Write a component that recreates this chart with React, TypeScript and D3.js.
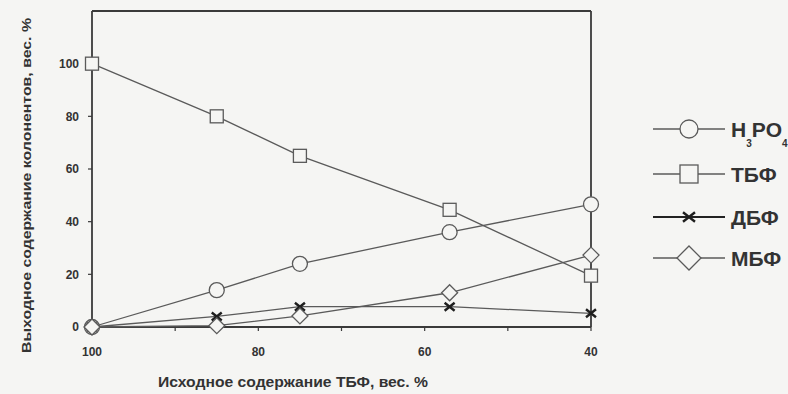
import React from "react";
import * as d3 from "d3";

const xValues = [100, 85, 75, 57, 40];
const seriesNames = ["HPO", "ТБФ", "ДБФ", "МБФ"];
const hpo = [0, 14, 24, 36, 46.6];
const tbf = [100, 80, 65, 44.5, 19.5];
const dbf = [0, 4, 7.7, 7.7, 5.2];
const mbf = [0, 0.5, 4.2, 13, 27.3];
const xTicks = [100, 80, 60, 40];
const xMinorTicks = [90, 70, 50];
const yTicks = [0, 20, 40, 60, 80, 100];
const xTitle = "Исходное содержание ТБФ, вес. %";
const yTitle = "Выходное содержание колонентов, вес. %";

const W = 788;
const H = 394;
const BG = "#f5f5f3";
const AX = "#3a3a3a";
const LN = "#5a5a5a";
const FONT = "'Liberation Sans', Arial, sans-serif";

const x = d3.scaleLinear().domain([100, 40]).range([92, 591]);
const y = d3.scaleLinear().domain([0, 120]).range([327, 11]);

type Kind = "circle" | "square" | "times" | "diamond";

function Marker({ kind, cx, cy, s }: { kind: Kind; cx: number; cy: number; s: number }) {
  if (kind === "circle") {
    return <circle cx={cx} cy={cy} r={s} fill={BG} stroke={LN} strokeWidth={1.3} />;
  }
  if (kind === "square") {
    return <rect x={cx - s} y={cy - s} width={2 * s} height={2 * s} fill={BG} stroke={LN} strokeWidth={1.3} />;
  }
  if (kind === "diamond") {
    const d = `M${cx},${cy - s}L${cx + s},${cy}L${cx},${cy + s}L${cx - s},${cy}Z`;
    return <path d={d} fill={BG} stroke={LN} strokeWidth={1.3} />;
  }
  const d = `M${cx - s},${cy - s * 0.8}L${cx + s},${cy + s * 0.8}M${cx + s},${cy - s * 0.8}L${cx - s},${cy + s * 0.8}`;
  return <path d={d} fill="none" stroke="#1e1e1e" strokeWidth={2.4} />;
}

const series: { name: string; values: number[]; kind: Kind; ps: number; ls: number; lw: number }[] = [
  { name: seriesNames[0], values: hpo, kind: "circle", ps: 7.5, ls: 9, lw: 1.3 },
  { name: seriesNames[1], values: tbf, kind: "square", ps: 6.5, ls: 9, lw: 1.3 },
  { name: seriesNames[2], values: dbf, kind: "times", ps: 5, ls: 6, lw: 1.3 },
  { name: seriesNames[3], values: mbf, kind: "diamond", ps: 8, ls: 12, lw: 1.3 },
];

const legendY = [129, 174, 217, 258];

export default function App() {
  const line = d3
    .line<[number, number]>()
    .x((d) => x(d[0]))
    .y((d) => y(d[1]));

  return (
    <svg width={W} height={H} style={{ position: "absolute", left: 0, top: 0, background: BG }} fontFamily={FONT}>
      <rect x={0} y={0} width={W} height={H} fill={BG} />
      {/* frame */}
      <line x1={x(100)} x2={x(40)} y1={y(120)} y2={y(120)} stroke={AX} strokeWidth={1.8} />
      <line x1={x(40)} x2={x(40)} y1={y(120)} y2={y(0)} stroke={AX} strokeWidth={1.8} />
      <line x1={x(100)} x2={x(100)} y1={y(120)} y2={y(0)} stroke={AX} strokeWidth={1.8} />
      <line x1={x(100)} x2={x(40)} y1={y(0)} y2={y(0)} stroke={AX} strokeWidth={2.2} />
      {/* y ticks */}
      {yTicks.map((t) => (
        <g key={"y" + t}>
          <line x1={x(100) - 4} x2={x(100)} y1={y(t)} y2={y(t)} stroke={AX} strokeWidth={1.2} />
          <text x={x(100) - 13} y={y(t)} dy="0.35em" textAnchor="end" fontSize={12} fontWeight="bold" fill="#333">
            {t}
          </text>
        </g>
      ))}
      {/* x ticks */}
      {xTicks.map((t) => (
        <g key={"x" + t}>
          <line x1={x(t)} x2={x(t)} y1={y(0)} y2={y(0) + 4} stroke={AX} strokeWidth={1.2} />
          <text x={x(t)} y={y(0) + 29} textAnchor="middle" fontSize={12} fontWeight="bold" fill="#333">
            {t}
          </text>
        </g>
      ))}
      {xMinorTicks.map((t) => (
        <line key={"m" + t} x1={x(t)} x2={x(t)} y1={y(0)} y2={y(0) + 4} stroke={AX} strokeWidth={1.2} />
      ))}
      {/* titles */}
      <text x={158} y={387} fontSize={14} fontWeight="bold" fill="#333" textLength={270} lengthAdjust="spacingAndGlyphs">
        {xTitle}
      </text>
      <text
        transform="translate(31,353) rotate(-90)"
        fontSize={13.5}
        fontWeight="bold"
        fill="#333"
        textLength={335}
        lengthAdjust="spacingAndGlyphs"
      >
        {yTitle}
      </text>
      {/* series lines */}
      {series.map((s) => (
        <path
          key={"l" + s.name}
          d={line(xValues.map((v, i) => [v, s.values[i]] as [number, number])) || ""}
          fill="none"
          stroke={LN}
          strokeWidth={s.lw}
        />
      ))}
      {/* markers */}
      {series.map((s) =>
        xValues.map((v, i) => <Marker key={s.name + i} kind={s.kind} cx={x(v)} cy={y(s.values[i])} s={s.ps} />)
      )}
      {/* legend */}
      {series.map((s, i) => (
        <g key={"lg" + s.name}>
          <line x1={653} x2={725} y1={legendY[i]} y2={legendY[i]} stroke={s.kind === "times" ? "#222" : LN} strokeWidth={s.kind === "times" ? 2.2 : 1.6} />
          <Marker kind={s.kind} cx={689} cy={legendY[i]} s={s.ls} />
          {i === 0 ? (
            <text x={731} y={legendY[i]} dy="0.36em" fontSize={21} fontWeight="bold" fill="#333">
              H
              <tspan fontSize={10} dy={10}>3</tspan>
              <tspan dy={-10}>PO</tspan>
              <tspan fontSize={10} dy={10}>4</tspan>
            </text>
          ) : (
            <text x={731} y={legendY[i]} dy="0.36em" fontSize={21} fontWeight="bold" fill="#333">
              {s.name}
            </text>
          )}
        </g>
      ))}
    </svg>
  );
}
